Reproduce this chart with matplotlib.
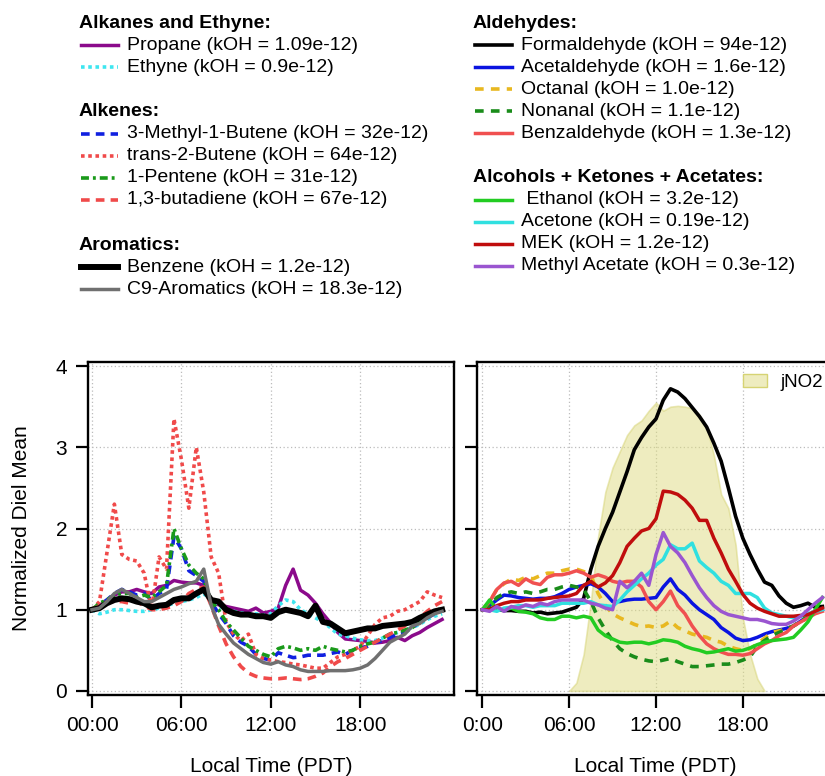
import numpy as np
import matplotlib
matplotlib.use('Agg')
from matplotlib import pyplot as plt
from matplotlib.patches import Patch

plt.rcParams['font.family'] = ['Liberation Sans', 'DejaVu Sans']

# half-hour diel grid (hours, PDT)
hours = np.arange(0, 24, 0.5)

# --- left panel: alkanes, alkenes, aromatics ---
propane = [1.00, 1.05, 1.12, 1.18, 1.22, 1.22, 1.25, 1.22,
           1.20, 1.28, 1.30, 1.36, 1.34, 1.33, 1.33, 1.30,
           1.10, 1.06, 1.04, 1.02, 1.00, 0.98, 1.02, 0.96,
           0.98, 1.02, 1.30, 1.50, 1.24, 1.18, 1.08, 0.95,
           0.84, 0.72, 0.64, 0.63, 0.62, 0.61, 0.59, 0.60,
           0.62, 0.66, 0.62, 0.68, 0.72, 0.78, 0.83, 0.88]
ethyne = [1.00, 0.95, 0.97, 1.00, 1.00, 0.99, 0.98, 0.98,
          1.00, 1.02, 1.05, 1.08, 1.10, 1.12, 1.15, 1.20,
          1.10, 1.05, 1.00, 0.98, 0.96, 0.95, 0.95, 0.93,
          0.95, 1.05, 1.12, 1.10, 1.00, 0.95, 0.90, 0.85,
          0.78, 0.70, 0.68, 0.65, 0.63, 0.62, 0.62, 0.65,
          0.70, 0.72, 0.75, 0.78, 0.82, 0.88, 0.92, 0.95]
methylbutene = [1.00, 1.05, 1.12, 1.20, 1.25, 1.22, 1.18, 1.20,
                1.12, 1.20, 1.25, 1.90, 1.75, 1.48, 1.42, 1.35,
                1.10, 0.95, 0.83, 0.68, 0.60, 0.55, 0.45, 0.40,
                0.38, 0.47, 0.44, 0.41, 0.42, 0.44, 0.44, 0.44,
                0.46, 0.48, 0.45, 0.50, 0.53, 0.55, 0.60, 0.62,
                0.66, 0.70, 0.72, 0.78, 0.85, 0.90, 0.95, 1.00]
trans_butene = [1.00, 1.10, 1.70, 2.30, 1.68, 1.62, 1.60, 1.45,
                1.00, 1.65, 1.50, 3.35, 2.85, 2.25, 3.00, 2.45,
                1.65, 1.45, 0.85, 0.70, 0.62, 0.70, 0.45, 0.40,
                0.38, 0.36, 0.35, 0.33, 0.32, 0.30, 0.28, 0.28,
                0.35, 0.42, 0.45, 0.50, 0.55, 0.68, 0.82, 0.90,
                0.92, 0.98, 1.00, 1.05, 1.10, 1.22, 1.18, 1.15]
pentene = [1.00, 1.08, 1.12, 1.18, 1.20, 1.20, 1.15, 1.18,
           1.15, 1.22, 1.30, 2.00, 1.75, 1.55, 1.45, 1.38,
           1.10, 1.00, 0.85, 0.75, 0.65, 0.55, 0.50, 0.45,
           0.42, 0.52, 0.55, 0.53, 0.50, 0.52, 0.50, 0.55,
           0.52, 0.50, 0.48, 0.50, 0.55, 0.58, 0.60, 0.65,
           0.70, 0.72, 0.75, 0.78, 0.85, 0.92, 0.98, 1.02]
butadiene = [1.00, 1.05, 1.10, 1.10, 1.10, 1.08, 1.10, 1.05,
             1.00, 1.00, 1.02, 1.05, 1.10, 1.20, 1.25, 1.28,
             1.05, 0.80, 0.58, 0.42, 0.30, 0.22, 0.18, 0.16,
             0.15, 0.15, 0.16, 0.15, 0.14, 0.15, 0.18, 0.22,
             0.30, 0.36, 0.40, 0.45, 0.50, 0.55, 0.60, 0.65,
             0.70, 0.75, 0.80, 0.85, 0.90, 0.98, 1.05, 1.10]
benzene = [1.00, 1.02, 1.08, 1.12, 1.14, 1.13, 1.10, 1.08,
           1.03, 1.05, 1.06, 1.12, 1.14, 1.14, 1.20, 1.25,
           1.12, 1.10, 1.00, 0.96, 0.94, 0.94, 0.92, 0.92,
           0.90, 0.97, 1.00, 0.98, 0.96, 0.92, 1.05, 0.85,
           0.83, 0.77, 0.71, 0.73, 0.75, 0.77, 0.77, 0.80,
           0.81, 0.82, 0.83, 0.85, 0.90, 0.94, 0.98, 1.00]
c9_aromatics = [1.00, 1.02, 1.10, 1.20, 1.25, 1.20, 1.15, 1.10,
                1.10, 1.15, 1.20, 1.25, 1.28, 1.32, 1.35, 1.50,
                1.05, 0.82, 0.70, 0.59, 0.52, 0.45, 0.40, 0.35,
                0.33, 0.36, 0.32, 0.30, 0.26, 0.24, 0.24, 0.24,
                0.25, 0.25, 0.25, 0.26, 0.28, 0.32, 0.40, 0.50,
                0.60, 0.65, 0.70, 0.80, 0.83, 0.90, 0.95, 0.98]

# --- right panel: aldehydes, alcohols, ketones, acetates ---
formaldehyde = [1.00, 1.02, 1.00, 0.99, 0.99, 0.98, 0.98, 0.96,
                0.97, 0.95, 0.96, 0.97, 1.00, 1.03, 1.14, 1.50,
                1.78, 2.00, 2.20, 2.45, 2.70, 2.97, 3.12, 3.25,
                3.35, 3.58, 3.72, 3.68, 3.60, 3.49, 3.38, 3.25,
                3.05, 2.83, 2.50, 2.15, 1.88, 1.68, 1.50, 1.34,
                1.30, 1.17, 1.08, 1.03, 1.05, 1.08, 1.03, 1.04]
acetaldehyde = [1.00, 1.05, 1.12, 1.18, 1.17, 1.15, 1.14, 1.13,
                1.14, 1.14, 1.16, 1.20, 1.25, 1.28, 1.30, 1.32,
                1.28, 1.20, 1.10, 1.10, 1.12, 1.13, 1.13, 1.14,
                1.15, 1.28, 1.38, 1.25, 1.18, 1.08, 1.00, 0.94,
                0.88, 0.78, 0.72, 0.65, 0.62, 0.63, 0.66, 0.70,
                0.73, 0.75, 0.77, 0.80, 0.86, 0.92, 0.96, 1.00]
octanal = [1.00, 1.10, 1.25, 1.32, 1.38, 1.36, 1.40, 1.38,
           1.42, 1.45, 1.45, 1.48, 1.50, 1.50, 1.47, 1.42,
           1.20, 1.05, 0.95, 0.90, 0.86, 0.82, 0.79, 0.80,
           0.78, 0.80, 0.86, 0.78, 0.74, 0.70, 0.68, 0.66,
           0.62, 0.60, 0.55, 0.52, 0.50, 0.52, 0.58, 0.65,
           0.72, 0.74, 0.76, 0.80, 0.85, 0.90, 0.95, 1.00]
nonanal = [1.00, 1.05, 1.15, 1.20, 1.22, 1.20, 1.22, 1.20,
           1.22, 1.25, 1.25, 1.28, 1.30, 1.28, 1.25, 1.10,
           0.90, 0.75, 0.62, 0.52, 0.46, 0.42, 0.39, 0.37,
           0.36, 0.38, 0.40, 0.36, 0.33, 0.30, 0.30, 0.31,
           0.32, 0.33, 0.33, 0.35, 0.38, 0.42, 0.55, 0.62,
           0.68, 0.72, 0.76, 0.80, 0.86, 0.92, 0.96, 1.00]
benzaldehyde = [1.00, 1.10, 1.25, 1.33, 1.35, 1.30, 1.38, 1.33,
                1.31, 1.40, 1.43, 1.43, 1.45, 1.48, 1.45, 1.40,
                1.43, 1.40, 1.35, 1.33, 1.35, 1.35, 1.28, 1.10,
                1.00, 1.10, 1.23, 1.05, 0.95, 0.80, 0.68, 0.58,
                0.52, 0.48, 0.45, 0.45, 0.44, 0.46, 0.52, 0.58,
                0.62, 0.68, 0.72, 0.80, 0.85, 0.90, 0.95, 0.98]
ethanol = [1.00, 1.12, 1.00, 1.00, 1.02, 0.98, 0.97, 0.95,
           0.90, 0.88, 0.88, 0.92, 0.92, 0.90, 0.92, 0.90,
           0.75, 0.68, 0.64, 0.60, 0.59, 0.60, 0.60, 0.58,
           0.60, 0.63, 0.62, 0.60, 0.55, 0.52, 0.50, 0.47,
           0.48, 0.50, 0.52, 0.49, 0.50, 0.53, 0.57, 0.60,
           0.62, 0.63, 0.64, 0.66, 0.75, 0.85, 1.00, 1.15]
acetone = [1.00, 1.00, 0.98, 1.02, 1.03, 1.05, 1.05, 1.03,
           1.05, 1.05, 1.05, 1.08, 1.08, 1.08, 1.08, 1.10,
           1.06, 1.05, 1.04, 1.12, 1.22, 1.30, 1.38, 1.45,
           1.55, 1.62, 1.80, 1.75, 1.75, 1.82, 1.60, 1.52,
           1.45, 1.35, 1.30, 1.20, 1.20, 1.20, 1.15, 1.02,
           0.96, 0.94, 0.92, 0.90, 0.92, 0.95, 0.98, 1.00]
mek = [1.00, 1.00, 1.05, 1.08, 1.10, 1.10, 1.12, 1.12,
       1.12, 1.14, 1.15, 1.16, 1.17, 1.20, 1.30, 1.35,
       1.28, 1.33, 1.42, 1.58, 1.78, 1.88, 1.97, 2.00,
       2.12, 2.46, 2.45, 2.42, 2.35, 2.25, 2.10, 2.10,
       1.88, 1.70, 1.50, 1.35, 1.19, 1.08, 1.02, 0.98,
       0.95, 0.92, 0.92, 0.92, 0.93, 0.94, 0.98, 1.02]
methyl_acetate = [1.00, 0.98, 1.04, 0.98, 1.04, 1.02, 1.06, 1.04,
                  1.08, 1.06, 1.10, 1.12, 1.12, 1.12, 1.12, 1.08,
                  1.06, 1.02, 1.00, 1.35, 1.27, 1.35, 1.45, 1.30,
                  1.68, 1.95, 1.78, 1.70, 1.58, 1.42, 1.27, 1.15,
                  1.05, 0.98, 0.94, 0.92, 0.90, 0.88, 0.88, 0.86,
                  0.83, 0.82, 0.82, 0.86, 0.92, 1.00, 1.08, 1.15]

# photolysis frequency of NO2, scaled to the same axis
jno2_hours = np.arange(6.0, 20.0, 0.5)
jno2 = [0.00, 0.10, 0.45, 1.10, 1.90, 2.45, 2.75, 2.95,
        3.15, 3.27, 3.33, 3.45, 3.55, 3.45, 3.50, 3.51,
        3.50, 3.48, 3.40, 3.25, 2.90, 2.42, 2.25, 1.80,
        0.90, 0.45, 0.15, 0.00]

left_series = {
    'propane': propane, 'ethyne': ethyne, 'methylbutene': methylbutene,
    'trans_butene': trans_butene, 'pentene': pentene, 'butadiene': butadiene,
    'benzene': benzene, 'c9': c9_aromatics,
}
right_series = {
    'formaldehyde': formaldehyde, 'acetaldehyde': acetaldehyde,
    'octanal': octanal, 'nonanal': nonanal, 'benzaldehyde': benzaldehyde,
    'ethanol': ethanol, 'acetone': acetone, 'mek': mek,
    'methyl_acetate': methyl_acetate,
}

labels = {
    'propane': 'Propane (kOH = 1.09e-12)',
    'ethyne': 'Ethyne (kOH = 0.9e-12)',
    'methylbutene': '3-Methyl-1-Butene (kOH = 32e-12)',
    'trans_butene': 'trans-2-Butene (kOH = 64e-12)',
    'pentene': '1-Pentene (kOH = 31e-12)',
    'butadiene': '1,3-butadiene (kOH = 67e-12)',
    'benzene': 'Benzene (kOH = 1.2e-12)',
    'c9': 'C9-Aromatics (kOH = 18.3e-12)',
    'formaldehyde': 'Formaldehyde (kOH = 94e-12)',
    'acetaldehyde': 'Acetaldehyde (kOH = 1.6e-12)',
    'octanal': 'Octanal (kOH = 1.0e-12)',
    'nonanal': 'Nonanal (kOH = 1.1e-12)',
    'benzaldehyde': 'Benzaldehyde (kOH = 1.3e-12)',
    'ethanol': ' Ethanol (kOH = 3.2e-12)',
    'acetone': 'Acetone (kOH = 0.19e-12)',
    'mek': 'MEK (kOH = 1.2e-12)',
    'methyl_acetate': 'Methyl Acetate (kOH = 0.3e-12)',
}

left_groups = [
    ('Alkanes and Ethyne:', ['propane', 'ethyne']),
    ('Alkenes:', ['methylbutene', 'trans_butene', 'pentene', 'butadiene']),
    ('Aromatics:', ['benzene', 'c9']),
]
right_groups = [
    ('Aldehydes:', ['formaldehyde', 'acetaldehyde', 'octanal', 'nonanal', 'benzaldehyde']),
    ('Alcohols + Ketones + Acetates:', ['ethanol', 'acetone', 'mek', 'methyl_acetate']),
]

# colour, linestyle, linewidth
styles = {
    'propane': ('#8b0a8b', '-', 2.5),
    'ethyne': ('#3ee6f0', (0, (1, 1)), 2.6),
    'methylbutene': ('#1020e0', (0, (2.4, 1.7)), 2.6),
    'trans_butene': ('#f04a4a', (0, (1, 1)), 2.6),
    'pentene': ('#1a9a1a', (0, (2.2, 1.1, 0.8, 1.1)), 2.6),
    'butadiene': ('#f04a4a', (0, (2.4, 1.7)), 2.6),
    'benzene': ('black', '-', 4.3),
    'c9': ('#707070', '-', 2.5),
    'formaldehyde': ('black', '-', 2.6),
    'acetaldehyde': ('#0a14e0', '-', 2.5),
    'octanal': ('#e8b820', (0, (2.4, 2.0)), 2.6),
    'nonanal': ('#1a8c1a', (0, (2.4, 2.0)), 2.6),
    'benzaldehyde': ('#f05050', '-', 2.5),
    'ethanol': ('#22cc22', '-', 2.5),
    'acetone': ('#30e0e0', '-', 2.5),
    'mek': ('#c00d0d', '-', 2.5),
    'methyl_acetate': ('#9a55d0', '-', 2.5),
}

FS = 15
fig = plt.figure(figsize=(8.25, 7.76), dpi=100)
ax1 = fig.add_axes([88 / 825, 81 / 776, 366 / 825, 333 / 776])
ax2 = fig.add_axes([477 / 825, 81 / 776, 357 / 825, 333 / 776])


def style_axes(ax, xlim, xticklabels):
    ax.set_xlim(*xlim)
    ax.set_ylim(-0.05, 4.05)
    ax.set_xticks([0, 6, 12, 18])
    ax.set_xticklabels(xticklabels)
    ax.set_yticks([0, 1, 2, 3, 4])
    ax.tick_params(direction='out', length=9, width=1.6, labelsize=FS, pad=6)
    ax.grid(True, color='#bcbcbc', linestyle=(0, (1, 2)), linewidth=0.9)
    ax.set_axisbelow(True)
    for sp in ax.spines.values():
        sp.set_linewidth(1.7)
    ax.set_xlabel('Local Time (PDT)', fontsize=FS)
    ax.xaxis.set_label_coords(0.5, -0.185)


style_axes(ax1, (-0.27, 24.3), ['00:00', '06:00', '12:00', '18:00'])
style_axes(ax2, (-0.37, 24.3), ['0:00', '06:00', '12:00', '18:00'])
ax2.set_yticklabels([])
ax1.set_ylabel('Normalized Diel Mean', fontsize=FS)
ax1.yaxis.set_label_coords(-0.155, 0.5)

for key, vals in left_series.items():
    c, ls, lw = styles[key]
    ax1.plot(hours, vals, color=c, linestyle=ls, linewidth=lw)

ax2.fill_between(jno2_hours, 0, jno2, facecolor='#dedb80', alpha=0.5,
                 edgecolor='#d6d373', linewidth=1.2, zorder=1.5)
for key, vals in right_series.items():
    c, ls, lw = styles[key]
    ax2.plot(hours, vals, color=c, linestyle=ls, linewidth=lw)

jpatch = Patch(facecolor='#eeecbf', edgecolor='#d6d373', label='jNO2')
ax2.legend(handles=[jpatch], loc='upper left', bbox_to_anchor=(0.745, 0.965),
           frameon=False, fontsize=13.5, handlelength=1.3, handleheight=0.7,
           handletextpad=0.7, borderpad=0, borderaxespad=0)

# key at the top, in figure pixels
key_ax = fig.add_axes([0, 0, 1, 1])
key_ax.set_xlim(0, 825)
key_ax.set_ylim(776, 0)
key_ax.axis('off')


def draw_key(x, y, groups):
    for header, names in groups:
        key_ax.text(x, y, header, fontsize=14, fontweight='bold', va='center', ha='left')
        y += 22
        for name in names:
            c, ls, lw = styles[name]
            key_ax.plot([x + 2, x + 39], [y, y], color=c, linestyle=ls, linewidth=lw)
            key_ax.text(x + 48, y, labels[name], fontsize=14, va='center', ha='left')
            y += 22
        y += 23


draw_key(79, 23, left_groups)
draw_key(473, 23, right_groups)

fig.savefig('out.png', dpi=100)
